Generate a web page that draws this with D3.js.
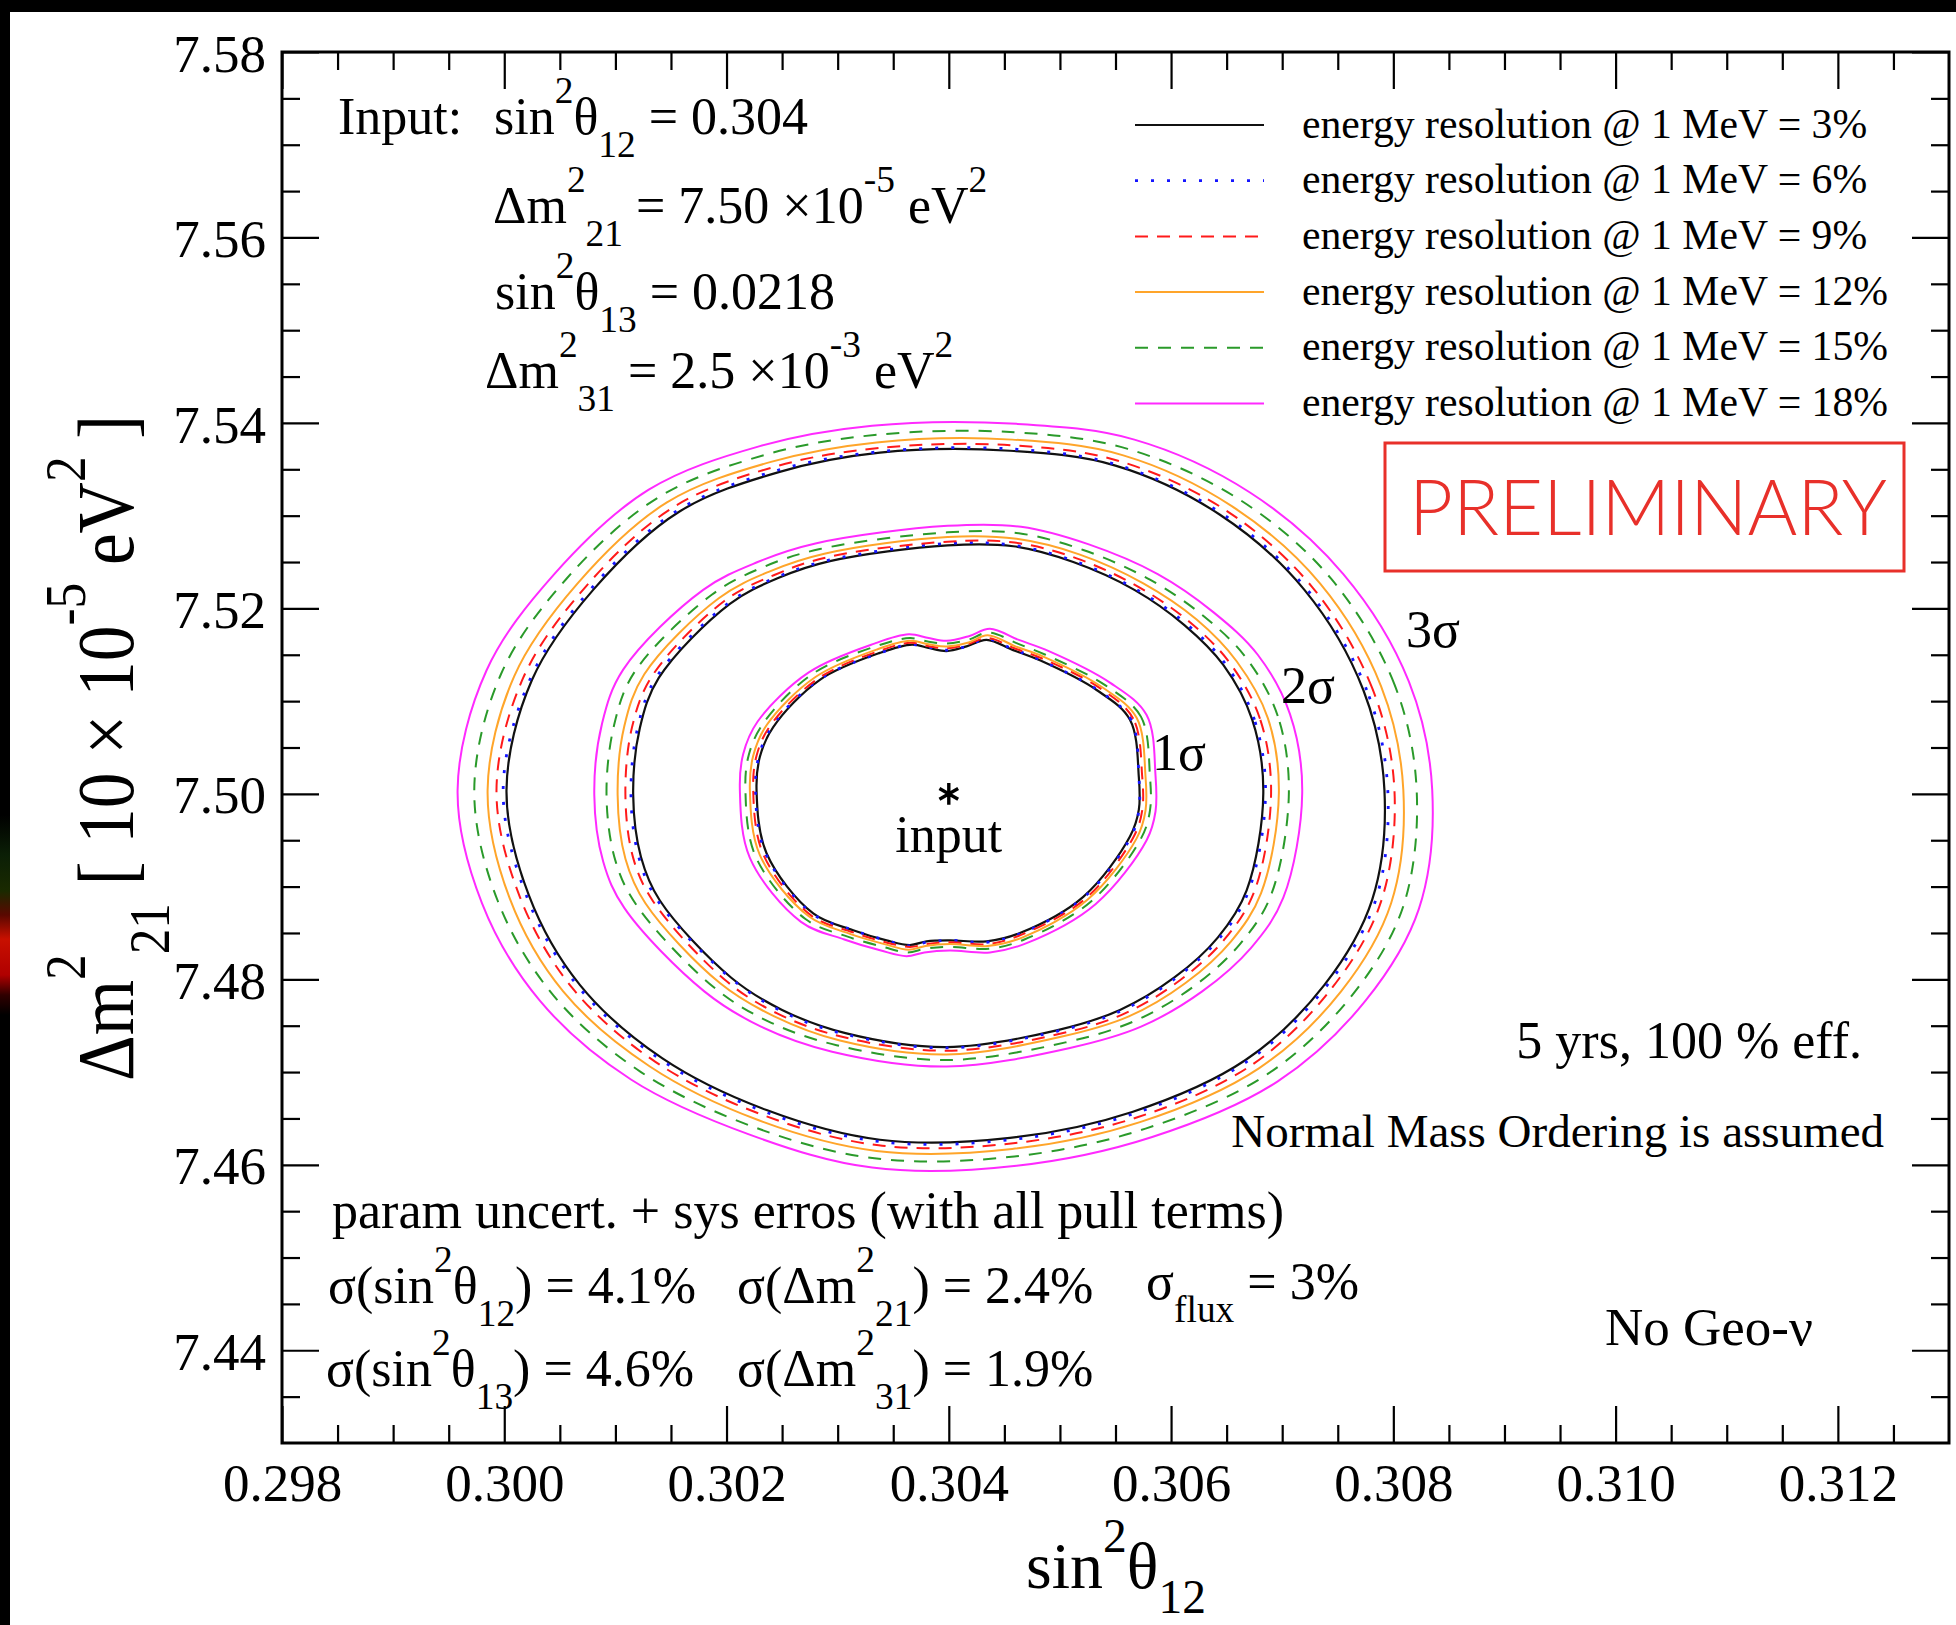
<!DOCTYPE html>
<html><head><meta charset="utf-8">
<script src="https://cdn.jsdelivr.net/npm/d3@7"></script>
<style>
body{margin:0;background:#fff}
svg{display:block}
text{font-family:"Liberation Serif","Times New Roman",serif;white-space:pre;fill:#000}
</style></head>
<body><svg id="c" width="1956" height="1625"></svg>
<script>
// ---------- axis ticks ----------
const xMajor = [0.298,0.300,0.302,0.304,0.306,0.308,0.310,0.312];
const xMinor = [0.2985,0.299,0.2995,0.3005,0.301,0.3015,0.3025,0.303,0.3035,0.3045,0.305,0.3055,0.3065,0.307,0.3075,0.3085,0.309,0.3095,0.3105,0.311,0.3115,0.3125];
const yMajor = [7.44,7.46,7.48,7.50,7.52,7.54,7.56,7.58];
const yMinor = [7.435,7.445,7.45,7.455,7.465,7.47,7.475,7.485,7.49,7.495,7.505,7.51,7.515,7.525,7.53,7.535,7.545,7.55,7.555,7.565,7.57,7.575];

// ---------- series ----------
const resolutions = ["3%","6%","9%","12%","15%","18%"];
const inputPoint = [0.304, 7.50];

// 1 sigma contours
const c1_3 = [[0.30571,7.5018],[0.30563,7.5080],[0.30533,7.5112],[0.30482,7.5144],[0.30458,7.5155],[0.30434,7.5166],[0.30416,7.5159],[0.30398,7.5154],[0.30383,7.5157],[0.30367,7.5161],[0.30338,7.5152],[0.30284,7.5123],[0.30242,7.5072],[0.30230,7.5040],[0.30227,7.5004],[0.30236,7.4936],[0.30278,7.4871],[0.30314,7.4853],[0.30344,7.4842],[0.30365,7.4837],[0.30380,7.4841],[0.30401,7.4842],[0.30434,7.4841],[0.30464,7.4850],[0.30521,7.4889],[0.30563,7.4954],[0.30571,7.4983]];
const c1_6 = [[0.30571,7.5019],[0.30564,7.5080],[0.30534,7.5112],[0.30483,7.5144],[0.30458,7.5156],[0.30434,7.5167],[0.30416,7.5159],[0.30398,7.5155],[0.30383,7.5158],[0.30366,7.5161],[0.30338,7.5152],[0.30283,7.5123],[0.30241,7.5073],[0.30229,7.5040],[0.30226,7.5004],[0.30235,7.4936],[0.30277,7.4871],[0.30314,7.4853],[0.30344,7.4842],[0.30365,7.4836],[0.30380,7.4840],[0.30401,7.4842],[0.30434,7.4840],[0.30464,7.4849],[0.30522,7.4889],[0.30564,7.4954],[0.30571,7.4982]];
const c1_9 = [[0.30574,7.5019],[0.30566,7.5081],[0.30536,7.5114],[0.30484,7.5146],[0.30459,7.5157],[0.30435,7.5168],[0.30416,7.5161],[0.30398,7.5157],[0.30383,7.5159],[0.30366,7.5163],[0.30337,7.5154],[0.30282,7.5124],[0.30239,7.5073],[0.30227,7.5041],[0.30224,7.5004],[0.30233,7.4935],[0.30276,7.4869],[0.30313,7.4851],[0.30343,7.4840],[0.30365,7.4835],[0.30380,7.4838],[0.30401,7.4840],[0.30435,7.4838],[0.30465,7.4848],[0.30523,7.4887],[0.30566,7.4953],[0.30574,7.4982]];
const c1_12 = [[0.30577,7.5019],[0.30569,7.5082],[0.30538,7.5115],[0.30485,7.5148],[0.30460,7.5159],[0.30435,7.5171],[0.30417,7.5163],[0.30398,7.5159],[0.30383,7.5161],[0.30365,7.5165],[0.30336,7.5156],[0.30280,7.5126],[0.30236,7.5074],[0.30224,7.5041],[0.30221,7.5004],[0.30230,7.4934],[0.30274,7.4868],[0.30311,7.4849],[0.30342,7.4838],[0.30364,7.4832],[0.30379,7.4836],[0.30401,7.4838],[0.30435,7.4836],[0.30466,7.4845],[0.30525,7.4886],[0.30569,7.4952],[0.30577,7.4982]];
const c1_15 = [[0.30581,7.5019],[0.30573,7.5083],[0.30541,7.5117],[0.30487,7.5150],[0.30462,7.5162],[0.30436,7.5174],[0.30417,7.5166],[0.30398,7.5162],[0.30382,7.5164],[0.30365,7.5168],[0.30334,7.5159],[0.30277,7.5129],[0.30233,7.5076],[0.30220,7.5042],[0.30217,7.5004],[0.30226,7.4933],[0.30271,7.4865],[0.30309,7.4846],[0.30341,7.4835],[0.30363,7.4829],[0.30379,7.4833],[0.30401,7.4835],[0.30436,7.4833],[0.30468,7.4843],[0.30528,7.4884],[0.30573,7.4952],[0.30581,7.4982]];
const c1_18 = [[0.30586,7.5020],[0.30578,7.5085],[0.30545,7.5120],[0.30490,7.5154],[0.30463,7.5166],[0.30437,7.5178],[0.30418,7.5170],[0.30398,7.5165],[0.30382,7.5168],[0.30364,7.5172],[0.30333,7.5162],[0.30274,7.5131],[0.30228,7.5078],[0.30215,7.5043],[0.30212,7.5004],[0.30221,7.4931],[0.30267,7.4862],[0.30306,7.4843],[0.30339,7.4831],[0.30362,7.4825],[0.30378,7.4829],[0.30401,7.4831],[0.30437,7.4829],[0.30470,7.4839],[0.30532,7.4881],[0.30578,7.4950],[0.30586,7.4981]];

// 2 sigma contours
const c2_3 = [[0.30683,7.5001],[0.30673,7.5080],[0.30647,7.5139],[0.30612,7.5182],[0.30567,7.5220],[0.30512,7.5250],[0.30458,7.5267],[0.30399,7.5268],[0.30293,7.5251],[0.30247,7.5233],[0.30203,7.5205],[0.30139,7.5125],[0.30122,7.5071],[0.30116,7.4999],[0.30123,7.4932],[0.30140,7.4885],[0.30204,7.4802],[0.30250,7.4767],[0.30307,7.4742],[0.30398,7.4727],[0.30497,7.4745],[0.30554,7.4767],[0.30603,7.4802],[0.30642,7.4845],[0.30668,7.4896]];
const c2_6 = [[0.30685,7.5001],[0.30675,7.5080],[0.30649,7.5140],[0.30614,7.5183],[0.30568,7.5221],[0.30513,7.5251],[0.30458,7.5268],[0.30399,7.5270],[0.30292,7.5252],[0.30246,7.5234],[0.30202,7.5206],[0.30137,7.5126],[0.30120,7.5071],[0.30114,7.4999],[0.30121,7.4932],[0.30138,7.4885],[0.30203,7.4802],[0.30249,7.4766],[0.30306,7.4741],[0.30398,7.4726],[0.30497,7.4744],[0.30555,7.4766],[0.30605,7.4802],[0.30644,7.4845],[0.30670,7.4896]];
const c2_9 = [[0.30690,7.5001],[0.30680,7.5081],[0.30653,7.5141],[0.30617,7.5185],[0.30571,7.5223],[0.30515,7.5254],[0.30459,7.5271],[0.30399,7.5272],[0.30290,7.5255],[0.30243,7.5236],[0.30198,7.5208],[0.30133,7.5127],[0.30115,7.5072],[0.30109,7.4999],[0.30116,7.4931],[0.30134,7.4884],[0.30199,7.4799],[0.30246,7.4763],[0.30304,7.4738],[0.30398,7.4723],[0.30499,7.4741],[0.30558,7.4763],[0.30608,7.4799],[0.30648,7.4843],[0.30675,7.4895]];
const c2_12 = [[0.30697,7.5001],[0.30687,7.5082],[0.30659,7.5143],[0.30623,7.5188],[0.30575,7.5227],[0.30518,7.5258],[0.30461,7.5275],[0.30399,7.5277],[0.30288,7.5259],[0.30239,7.5240],[0.30193,7.5211],[0.30126,7.5129],[0.30108,7.5073],[0.30102,7.4999],[0.30109,7.4930],[0.30127,7.4882],[0.30194,7.4796],[0.30243,7.4760],[0.30302,7.4734],[0.30398,7.4719],[0.30501,7.4738],[0.30562,7.4760],[0.30613,7.4796],[0.30654,7.4841],[0.30681,7.4893]];
const c2_15 = [[0.30706,7.5001],[0.30696,7.5084],[0.30668,7.5146],[0.30630,7.5191],[0.30581,7.5231],[0.30521,7.5263],[0.30463,7.5281],[0.30399,7.5282],[0.30284,7.5264],[0.30234,7.5245],[0.30187,7.5215],[0.30117,7.5131],[0.30099,7.5075],[0.30092,7.4999],[0.30100,7.4928],[0.30119,7.4880],[0.30188,7.4792],[0.30237,7.4755],[0.30299,7.4729],[0.30398,7.4713],[0.30505,7.4732],[0.30567,7.4755],[0.30620,7.4792],[0.30662,7.4838],[0.30690,7.4891]];
const c2_18 = [[0.30718,7.5001],[0.30707,7.5086],[0.30678,7.5150],[0.30638,7.5196],[0.30588,7.5237],[0.30526,7.5269],[0.30465,7.5288],[0.30399,7.5289],[0.30280,7.5270],[0.30228,7.5250],[0.30179,7.5220],[0.30107,7.5134],[0.30088,7.5076],[0.30081,7.4999],[0.30089,7.4927],[0.30108,7.4877],[0.30180,7.4787],[0.30231,7.4749],[0.30295,7.4722],[0.30398,7.4706],[0.30509,7.4726],[0.30573,7.4749],[0.30628,7.4787],[0.30672,7.4834],[0.30701,7.4888]];

// 3 sigma contours
const c3_3 = [[0.30792,7.5004],[0.30773,7.5112],[0.30720,7.5220],[0.30644,7.5301],[0.30550,7.5354],[0.30455,7.5370],[0.30338,7.5368],[0.30247,7.5347],[0.30157,7.5304],[0.30080,7.5220],[0.30025,7.5123],[0.30002,7.5004],[0.30022,7.4891],[0.30068,7.4794],[0.30142,7.4715],[0.30236,7.4659],[0.30338,7.4627],[0.30455,7.4629],[0.30565,7.4657],[0.30667,7.4713],[0.30738,7.4794],[0.30781,7.4886]];
const c3_6 = [[0.30795,7.5004],[0.30776,7.5112],[0.30722,7.5221],[0.30646,7.5302],[0.30551,7.5355],[0.30455,7.5372],[0.30338,7.5369],[0.30246,7.5349],[0.30155,7.5305],[0.30078,7.5221],[0.30023,7.5123],[0.29999,7.5004],[0.30020,7.4890],[0.30066,7.4793],[0.30140,7.4714],[0.30235,7.4657],[0.30338,7.4625],[0.30455,7.4627],[0.30566,7.4655],[0.30669,7.4712],[0.30740,7.4793],[0.30784,7.4885]];
const c3_9 = [[0.30801,7.5004],[0.30781,7.5114],[0.30727,7.5223],[0.30649,7.5306],[0.30553,7.5359],[0.30456,7.5376],[0.30337,7.5373],[0.30244,7.5353],[0.30152,7.5309],[0.30073,7.5223],[0.30017,7.5125],[0.29993,7.5004],[0.30014,7.4889],[0.30061,7.4791],[0.30136,7.4711],[0.30232,7.4654],[0.30337,7.4621],[0.30456,7.4623],[0.30569,7.4651],[0.30673,7.4708],[0.30745,7.4791],[0.30789,7.4884]];
const c3_12 = [[0.30809,7.5004],[0.30789,7.5116],[0.30734,7.5227],[0.30655,7.5310],[0.30557,7.5365],[0.30457,7.5382],[0.30335,7.5379],[0.30240,7.5358],[0.30146,7.5314],[0.30066,7.5227],[0.30009,7.5127],[0.29985,7.5004],[0.30005,7.4887],[0.30053,7.4787],[0.30131,7.4706],[0.30229,7.4648],[0.30335,7.4615],[0.30457,7.4617],[0.30572,7.4646],[0.30679,7.4704],[0.30753,7.4787],[0.30798,7.4882]];
const c3_15 = [[0.30821,7.5004],[0.30801,7.5118],[0.30744,7.5232],[0.30662,7.5317],[0.30561,7.5372],[0.30459,7.5390],[0.30333,7.5387],[0.30236,7.5366],[0.30139,7.5320],[0.30056,7.5232],[0.29997,7.5129],[0.29973,7.5004],[0.29994,7.4885],[0.30044,7.4783],[0.30123,7.4700],[0.30224,7.4641],[0.30333,7.4607],[0.30459,7.4609],[0.30577,7.4639],[0.30687,7.4698],[0.30763,7.4783],[0.30809,7.4879]];
const c3_18 = [[0.30835,7.5004],[0.30814,7.5121],[0.30755,7.5237],[0.30671,7.5325],[0.30567,7.5382],[0.30461,7.5399],[0.30331,7.5397],[0.30230,7.5375],[0.30130,7.5328],[0.30045,7.5237],[0.29984,7.5133],[0.29958,7.5004],[0.29980,7.4882],[0.30032,7.4777],[0.30114,7.4692],[0.30222,7.4632],[0.30331,7.4597],[0.30461,7.4599],[0.30583,7.4630],[0.30696,7.4690],[0.30775,7.4777],[0.30823,7.4876]];

// ---------- setup ----------
const W = 1956, H = 1625;
const P = {l:282, t:52, r:1949, b:1443};
const x = d3.scaleLinear().domain([0.298, 0.313]).range([P.l, P.r]);
const y = d3.scaleLinear().domain([7.43, 7.58]).range([P.b, P.t]);
const svg = d3.select("#c");
const defs = svg.append("defs");
const FS = 52;

svg.append("rect").attr("width", W).attr("height", H).attr("fill", "#fff");
// dark edges of the photographed slide
const g1 = defs.append("linearGradient").attr("id","glow").attr("x1",0).attr("y1",0).attr("x2",0).attr("y2",1);
[[0,"#000"],[0.2,"#0b1f06"],[0.38,"#1a2a00"],[0.5,"#5a0800"],[0.62,"#c81000"],[0.8,"#b00000"],[0.9,"#300000"],[1,"#000"]]
  .forEach(s => g1.append("stop").attr("offset", s[0]).attr("stop-color", s[1]));
svg.append("rect").attr("x",0).attr("y",0).attr("width",W).attr("height",12).attr("fill","#000");
svg.append("rect").attr("x",0).attr("y",0).attr("width",10).attr("height",H).attr("fill","#000");
svg.append("rect").attr("x",0).attr("y",815).attr("width",10).attr("height",200).attr("fill","url(#glow)");

// ---------- axes ----------
function styleAxis(g){
  g.select(".domain").remove();
  g.selectAll(".tick line").attr("stroke","#000").attr("stroke-width",2.2);
  g.attr("font-family",'"Liberation Serif","Times New Roman",serif').attr("font-size",53);
  g.selectAll("text").attr("fill","#000");
}
svg.append("g").attr("transform",`translate(0,${P.b})`)
  .call(d3.axisBottom(x).tickValues(xMajor).tickSize(-37).tickSizeOuter(0).tickPadding(20).tickFormat(d3.format(".3f"))).call(styleAxis);
svg.append("g").attr("transform",`translate(0,${P.b})`)
  .call(d3.axisBottom(x).tickValues(xMinor).tickSize(-18).tickSizeOuter(0).tickFormat("")).call(styleAxis);
svg.append("g").attr("transform",`translate(0,${P.t})`)
  .call(d3.axisTop(x).tickValues(xMajor).tickSize(-37).tickSizeOuter(0).tickFormat("")).call(styleAxis);
svg.append("g").attr("transform",`translate(0,${P.t})`)
  .call(d3.axisTop(x).tickValues(xMinor).tickSize(-18).tickSizeOuter(0).tickFormat("")).call(styleAxis);
svg.append("g").attr("transform",`translate(${P.l},0)`)
  .call(d3.axisLeft(y).tickValues(yMajor).tickSize(-37).tickSizeOuter(0).tickPadding(16).tickFormat(d3.format(".2f"))).call(styleAxis)
  .call(g => g.selectAll("text").attr("dy","0.36em"));
svg.append("g").attr("transform",`translate(${P.l},0)`)
  .call(d3.axisLeft(y).tickValues(yMinor).tickSize(-18).tickSizeOuter(0).tickFormat("")).call(styleAxis);
svg.append("g").attr("transform",`translate(${P.r},0)`)
  .call(d3.axisRight(y).tickValues(yMajor).tickSize(-37).tickSizeOuter(0).tickFormat("")).call(styleAxis);
svg.append("g").attr("transform",`translate(${P.r},0)`)
  .call(d3.axisRight(y).tickValues(yMinor).tickSize(-18).tickSizeOuter(0).tickFormat("")).call(styleAxis);

svg.append("rect").attr("x",P.l).attr("y",P.t).attr("width",P.r-P.l).attr("height",P.b-P.t)
  .attr("fill","none").attr("stroke","#000").attr("stroke-width",3);

// ---------- contours ----------
const styles = [
  {c:"#111111", d:null,    w:2.2},
  {c:"#1515ff", d:"3,13",  w:2.8},
  {c:"#ff1a1a", d:"13,9",  w:2.0},
  {c:"#ffa52a", d:null,    w:2.0},
  {c:"#2a9a2a", d:"13,10", w:2.0},
  {c:"#ff2aff", d:null,    w:2.0}
];
const contourTable = [
  [c1_3,c1_6,c1_9,c1_12,c1_15,c1_18],
  [c2_3,c2_6,c2_9,c2_12,c2_15,c2_18],
  [c3_3,c3_6,c3_9,c3_12,c3_15,c3_18]
];
const line = d3.line().x(d => x(d[0])).y(d => y(d[1])).curve(d3.curveCatmullRomClosed.alpha(0.5));
const cg = svg.append("g").attr("fill","none");
contourTable.forEach(level => {
  level.forEach((pts, i) => {
    const s = styles[i];
    const p = cg.append("path").attr("d", line(pts)).attr("stroke", s.c).attr("stroke-width", s.w);
    if (s.d) p.attr("stroke-dasharray", s.d);
  });
});

// input marker
svg.append("path").attr("d", d3.symbol(d3.symbolAsterisk, 330)())
  .attr("transform", `translate(${x(inputPoint[0])},${y(inputPoint[1])})`)
  .attr("fill","none").attr("stroke","#000").attr("stroke-width",3.4);

// ---------- text helper ----------
function rich(x0, y0, parts, fs, opt = {}) {
  const t = svg.append("text").attr("font-size", fs);
  if (opt.transform) { t.attr("x",0).attr("y",0).attr("transform", opt.transform); }
  else { t.attr("x", x0).attr("y", y0); }
  if (opt.anchor) t.attr("text-anchor", opt.anchor);
  const supK = opt.sup || 0.6, subK = opt.sub || 0.45;
  let cur = 0;
  parts.forEach(p => {
    const [s, m] = typeof p === "string" ? [p, "n"] : p;
    const sh = m === "sup" ? -supK * fs : m === "sub" ? subK * fs : 0;
    t.append("tspan").attr("dy", sh - cur).attr("font-size", m === "n" ? fs : 0.72 * fs).text(s);
    cur = sh;
  });
  return t;
}

// axis titles
rich(1116, 1588, ["sin", ["2","sup"], "θ", ["12","sub"]], 66, {anchor:"middle", sub:0.38, sup:0.55});
rich(0, 0, ["Δm", ["2","sup"], ["21","sub"], " [ 10 × 10", ["-5","sup"], " eV", ["2","sup"], " ]"], 80,
     {anchor:"middle", transform:"translate(133,748) rotate(-90) scale(0.89,1)"});

// input values
rich(338, 134, ["Input:"], FS);
rich(494, 134, ["sin", ["2","sup"], "θ", ["12","sub"], " = 0.304"], FS);
rich(493, 223, ["Δm", ["2","sup"], ["21","sub"], " = 7.50 ×10", ["-5","sup"], " eV", ["2","sup"]], FS);
rich(495, 309, ["sin", ["2","sup"], "θ", ["13","sub"], " = 0.0218"], FS);
rich(485, 388, ["Δm", ["2","sup"], ["31","sub"], " = 2.5 ×10", ["-3","sup"], " eV", ["2","sup"]], FS);

// legend
const legY0 = 125, legDY = 55.7;
resolutions.forEach((r, i) => {
  const s = styles[i];
  const ly = legY0 + i * legDY;
  const l = svg.append("line").attr("x1",1135).attr("x2",1264).attr("y1",ly).attr("y2",ly)
    .attr("stroke", s.c).attr("stroke-width", s.w);
  if (s.d) l.attr("stroke-dasharray", s.d);
  svg.append("text").attr("x",1302).attr("y",ly + 12.5).attr("font-size",41.7)
    .text(`energy resolution @ 1 MeV = ${r}`);
});

// PRELIMINARY stamp
svg.append("rect").attr("x",1385).attr("y",443).attr("width",519).attr("height",128)
  .attr("fill","none").attr("stroke","#e8302a").attr("stroke-width",3);
svg.append("text").attr("x",1409).attr("y",535).attr("font-size",76)
  .attr("textLength",478).attr("lengthAdjust","spacingAndGlyphs")
  .style("font-family","Lato, 'Open Sans', sans-serif").style("font-weight",300).style("fill","#e8302a")
  .text("PRELIMINARY");

// contour labels
rich(1406, 647, ["3σ"], FS);
rich(1281, 703, ["2σ"], FS);
rich(1152, 770, ["1σ"], FS);
rich(x(inputPoint[0]), 852, ["input"], FS, {anchor:"middle"});

// right notes
rich(1862, 1058, ["5 yrs, 100 % eff."], FS, {anchor:"end"});
rich(1884, 1147, ["Normal Mass Ordering is assumed"], 47, {anchor:"end"});
rich(1605, 1345, ["No Geo-ν"], 53);

// bottom notes
rich(332, 1228, ["param uncert. + sys erros (with all pull terms)"], FS);
rich(328, 1303, ["σ(sin", ["2","sup"], "θ", ["12","sub"], ") = 4.1%"], FS);
rich(737, 1303, ["σ(Δm", ["2","sup"], ["21","sub"], ") = 2.4%"], FS);
rich(1146, 1299, ["σ", ["flux","sub"], " = 3%"], FS);
rich(326, 1386, ["σ(sin", ["2","sup"], "θ", ["13","sub"], ") = 4.6%"], FS);
rich(737, 1386, ["σ(Δm", ["2","sup"], ["31","sub"], ") = 1.9%"], FS);
</script>
</body></html>
